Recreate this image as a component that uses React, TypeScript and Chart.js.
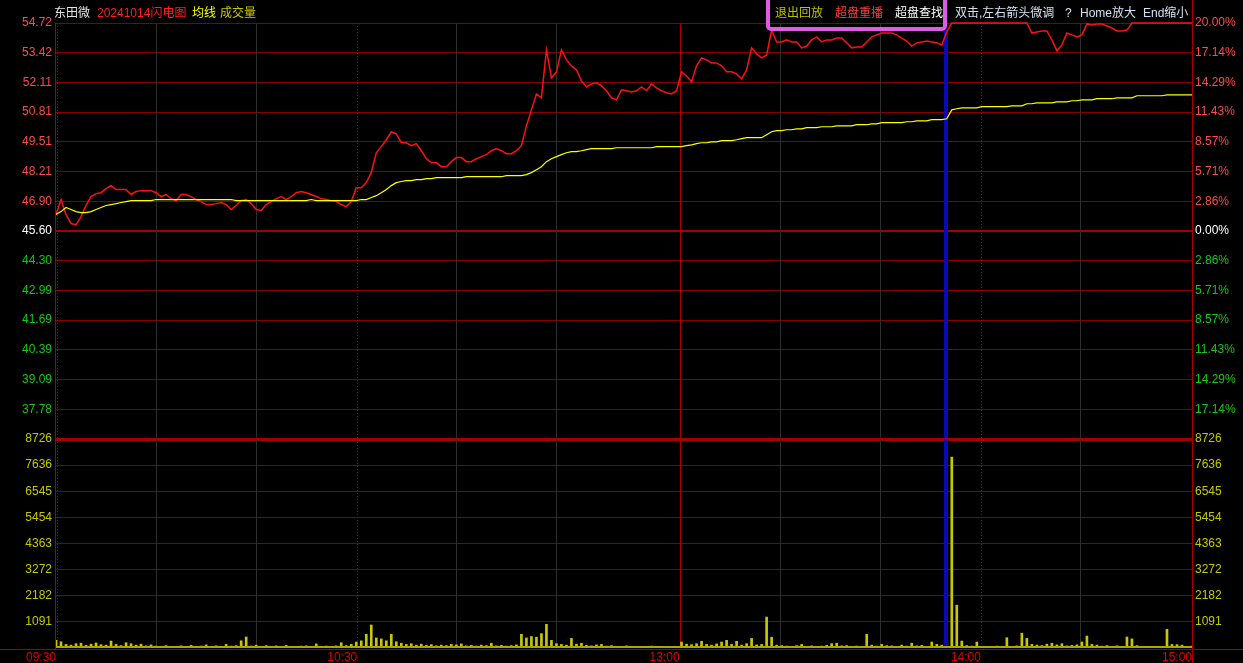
import React, { useEffect, useRef } from 'react';
import { Chart, registerables } from 'chart.js';

Chart.register(...registerables);

// ---------- data (sampled along the tick axis, 228 samples from 09:30 to 15:00) ----------
const PRICE: number[] = [
  46.32, 46.98, 46.32, 45.93, 45.88, 46.23, 46.72, 47.11, 47.24, 47.28,
  47.46, 47.59, 47.42, 47.42, 47.42, 47.20, 47.33, 47.37, 47.37, 47.37,
  47.28, 47.11, 47.20, 47.02, 46.93, 47.20, 47.20, 47.11, 46.98, 46.89,
  46.76, 46.76, 46.80, 46.85, 46.76, 46.54, 46.72, 46.93, 46.98, 46.80,
  46.54, 46.50, 46.76, 46.89, 47.02, 47.11, 46.98, 47.11, 47.28, 47.33,
  47.28, 47.20, 47.11, 47.02, 46.98, 46.93, 46.89, 46.76, 46.67, 46.89,
  47.50, 47.50, 47.72, 48.16, 49.03, 49.30, 49.60, 49.95, 49.86, 49.47,
  49.47, 49.34, 49.43, 49.12, 48.77, 48.60, 48.60, 48.42, 48.42, 48.64,
  48.82, 48.82, 48.64, 48.64, 48.77, 48.86, 48.95, 49.12, 49.21, 49.12,
  48.99, 48.99, 49.12, 49.34, 50.21, 50.91, 51.61, 51.44, 53.54, 52.31,
  52.58, 53.54, 53.10, 52.84, 52.66, 52.18, 51.92, 52.05, 52.10, 51.96,
  51.75, 51.44, 51.35, 51.79, 51.75, 51.70, 51.75, 51.92, 51.75, 52.05,
  51.88, 51.75, 51.66, 51.61, 51.75, 52.58, 52.40, 52.14, 52.84, 53.19,
  53.10, 52.97, 52.97, 52.84, 52.58, 52.58, 52.49, 52.27, 52.66, 53.63,
  53.36, 53.19, 53.32, 54.41, 53.89, 53.89, 53.98, 53.89, 53.89, 53.63,
  53.71, 53.98, 54.11, 53.89, 53.98, 53.98, 54.06, 54.06, 53.85, 53.63,
  53.67, 53.67, 53.89, 54.11, 54.20, 54.28, 54.28, 54.28, 54.20, 54.06,
  53.93, 53.71, 53.85, 53.89, 53.93, 53.89, 53.85, 53.76, 54.33, 54.72,
  54.72, 54.72, 54.72, 54.72, 54.72, 54.72, 54.72, 54.72, 54.72, 54.72,
  54.72, 54.72, 54.72, 54.72, 54.72, 54.28, 54.33, 54.37, 54.37, 53.98,
  53.50, 53.76, 54.28, 54.20, 54.11, 54.20, 54.68, 54.63, 54.68, 54.68,
  54.59, 54.50, 54.37, 54.37, 54.41, 54.72, 54.72, 54.72, 54.72, 54.72,
  54.72, 54.72, 54.72, 54.72, 54.72, 54.72, 54.72, 54.72,
];

const AVG: number[] = [
  46.32, 46.45, 46.63, 46.54, 46.45, 46.41, 46.41, 46.45, 46.54, 46.63,
  46.72, 46.76, 46.80, 46.85, 46.89, 46.93, 46.93, 46.93, 46.93, 46.93,
  46.98, 46.98, 46.98, 46.98, 46.98, 46.98, 46.98, 46.98, 46.98, 46.98,
  46.98, 46.98, 46.98, 46.98, 46.98, 46.98, 46.93, 46.93, 46.93, 46.93,
  46.93, 46.93, 46.93, 46.93, 46.93, 46.93, 46.93, 46.93, 46.93, 46.93,
  46.93, 46.98, 46.93, 46.93, 46.93, 46.93, 46.93, 46.93, 46.93, 46.93,
  46.93, 46.98, 46.98, 47.07, 47.15, 47.28, 47.42, 47.59, 47.72, 47.77,
  47.81, 47.81, 47.85, 47.85, 47.90, 47.90, 47.94, 47.94, 47.94, 47.94,
  47.94, 47.94, 47.98, 47.98, 47.98, 47.98, 47.98, 47.98, 47.98, 47.98,
  48.03, 48.03, 48.03, 48.03, 48.07, 48.16, 48.29, 48.42, 48.64, 48.77,
  48.86, 48.95, 49.03, 49.08, 49.08, 49.12, 49.17, 49.21, 49.21, 49.21,
  49.21, 49.21, 49.25, 49.25, 49.25, 49.25, 49.25, 49.25, 49.25, 49.25,
  49.30, 49.30, 49.30, 49.30, 49.30, 49.30, 49.34, 49.38, 49.43, 49.47,
  49.47, 49.51, 49.51, 49.56, 49.56, 49.56, 49.60, 49.65, 49.69, 49.69,
  49.69, 49.69, 49.82, 49.95, 50.00, 50.00, 50.04, 50.04, 50.08, 50.08,
  50.13, 50.13, 50.13, 50.17, 50.17, 50.17, 50.21, 50.21, 50.21, 50.21,
  50.26, 50.26, 50.26, 50.30, 50.30, 50.35, 50.35, 50.35, 50.35, 50.35,
  50.39, 50.39, 50.43, 50.43, 50.43, 50.48, 50.48, 50.48, 50.52, 50.91,
  50.96, 51.00, 51.00, 51.00, 51.00, 51.05, 51.05, 51.05, 51.05, 51.05,
  51.05, 51.09, 51.09, 51.09, 51.18, 51.18, 51.22, 51.22, 51.22, 51.22,
  51.26, 51.26, 51.26, 51.31, 51.31, 51.35, 51.35, 51.35, 51.40, 51.40,
  51.40, 51.40, 51.44, 51.44, 51.44, 51.44, 51.53, 51.53, 51.53, 51.53,
  51.53, 51.53, 51.57, 51.57, 51.57, 51.57, 51.57, 51.57,
];

const VOLUME: number[] = [
  320, 260, 150, 120, 180, 200, 110, 160, 210, 140,
  120, 290, 150, 100, 220, 180, 120, 160, 90, 130,
  80, 60, 100, 40, 70, 90, 50, 110, 60, 80,
  130, 70, 90, 60, 150, 80, 100, 300, 460, 80,
  120, 70, 100, 60, 90, 50, 110, 70, 60, 80,
  90, 70, 170, 60, 80, 50, 90, 220, 100, 150,
  250, 300, 570, 960, 420, 380, 300, 570, 260, 200,
  150, 180, 120, 160, 110, 140, 90, 120, 100, 150,
  130, 170, 90, 110, 80, 120, 100, 200, 90, 110,
  80, 100, 130, 570, 420, 480, 450, 600, 990, 320,
  180, 150, 120, 400, 160, 200, 110, 90, 130, 150,
  80, 100, 70, 60, 90, 50, 40, 70, 50, 80,
  60, 70, 40, 60, 50, 250, 160, 140, 180, 280,
  150, 120, 170, 250, 320, 150, 280, 120, 180, 400,
  130, 150, 1290, 450, 120, 100, 80, 70, 100, 150,
  60, 90, 70, 80, 110, 180, 200, 90, 100, 70,
  80, 60, 570, 120, 80, 150, 100, 90, 70, 120,
  80, 200, 90, 110, 70, 250, 150, 120, 300, 7970,
  1790, 290, 100, 80, 250, 60, 70, 50, 80, 60,
  430, 70, 90, 620, 400, 150, 120, 100, 160, 200,
  130, 180, 90, 110, 130, 250, 500, 150, 120, 80,
  100, 70, 90, 60, 460, 380, 100, 60, 50, 70,
  40, 60, 780, 150, 140, 120, 60, 80,
];

const PREV_CLOSE = 45.6;
const PRICE_TICKS = [54.72, 53.42, 52.11, 50.81, 49.51, 48.21, 46.9, 45.6, 44.3, 42.99, 41.69, 40.39, 39.09, 37.78, 36.48];
const PCT_TICKS = [20, 17.14, 14.29, 11.43, 8.57, 5.71, 2.86, 0, -2.86, -5.71, -8.57, -11.43, -14.29, -17.14, -20];
const VOL_TICKS = [0, 1091, 2182, 3272, 4363, 5454, 6545, 7636, 8726];
const TIME_TICKS = [0, 60.2, 124.6, 184.8, 227];
const TIME_LABELS = ['09:30', '10:30', '13:00', '14:00', '15:00'];
const FAINT_LINES = [20, 40, 80, 100, 144.6, 164.6, 204.6];
const DOTTED_LINES = [0, 60.2, 184.8];
const SOLID_LINES = [124.6];
const CURSOR_AT = 177.8;

// ---------- layout / style ----------
const W = 1243;
const H = 663;
const LEFT_W = 56;
const RIGHT_W = 51;
const PRICE_TOP = 23;
const SPLIT = 439;
const X_AXIS_H = 15;
const GRID = '#8a0000';
const GRID_STRONG = '#a80000';
const FONT = '"Liberation Sans", Arial, "Noto Sans CJK SC", sans-serif';
const tickFont = { family: FONT, size: 12 };

const near = (a: number, b: number) => Math.abs(a - b) < 1e-6;

const priceColor = (v: number) => (near(v, PREV_CLOSE) ? '#ffffff' : v > PREV_CLOSE ? '#ff4a4a' : '#14c814');
const pctColor = (v: number) => (near(v, 0) ? '#ffffff' : v > 0 ? '#ff4a4a' : '#14c814');

function vLines(chart: any, top: number, bottom: number) {
  const { ctx, scales } = chart;
  const x = scales.x;
  ctx.save();
  ctx.lineWidth = 1;
  ctx.strokeStyle = '#2e2e2e';
  FAINT_LINES.forEach((v) => {
    const px = Math.round(x.getPixelForValue(v)) + 0.5;
    ctx.beginPath();
    ctx.moveTo(px, top);
    ctx.lineTo(px, bottom);
    ctx.stroke();
  });
  ctx.strokeStyle = GRID_STRONG;
  ctx.setLineDash([1, 2]);
  DOTTED_LINES.forEach((v) => {
    const px = Math.round(x.getPixelForValue(v)) + (v === 0 ? 1.5 : 0.5);
    ctx.beginPath();
    ctx.moveTo(px, top);
    ctx.lineTo(px, bottom);
    ctx.stroke();
  });
  ctx.setLineDash([]);
  SOLID_LINES.forEach((v) => {
    const px = Math.round(x.getPixelForValue(v)) + 0.5;
    ctx.beginPath();
    ctx.moveTo(px, top);
    ctx.lineTo(px, bottom);
    ctx.stroke();
  });
  ctx.restore();
}

function cursor(chart: any, top: number, bottom: number) {
  const { ctx, scales } = chart;
  const px = Math.round(scales.x.getPixelForValue(CURSOR_AT));
  ctx.save();
  ctx.fillStyle = '#0a0ab4';
  ctx.fillRect(px - 2, top, 4, bottom - top);
  ctx.restore();
}

const pricePanePlugin = {
  id: 'pricePane',
  beforeDatasetsDraw(chart: any) {
    const a = chart.chartArea;
    vLines(chart, a.top, a.bottom);
    cursor(chart, 30, a.bottom);
  },
  afterDraw(chart: any) {
    const ctx = chart.ctx;
    ctx.save();
    ctx.textBaseline = 'middle';
    ctx.font = `12px ${FONT}`;
    const put = (t: string, c: string, x: number) => {
      ctx.fillStyle = c;
      ctx.fillText(t, x, 14);
    };
    put('东田微', '#e6e6e6', 54);
    put('20241014闪电图', '#ff2020', 97);
    put('均线', '#ffff00', 192);
    put('成交量', '#c8c800', 220);
    put('退出回放', '#c0c000', 775);
    put('超盘重播', '#ff3c3c', 835);
    put('超盘查找', '#ffffff', 895);
    put('双击,左右箭头微调', '#d2e1f0', 955);
    put('?', '#d2e1f0', 1065);
    put('Home放大', '#d2e1f0', 1080);
    put('End缩小', '#d2e1f0', 1143);
    // magenta highlight box
    ctx.strokeStyle = '#e05ae8';
    ctx.lineWidth = 4;
    ctx.beginPath();
    (ctx as any).roundRect(768, -6, 177, 35, 3);
    ctx.stroke();
    ctx.restore();
  },
};

const volPanePlugin = {
  id: 'volPane',
  beforeDatasetsDraw(chart: any) {
    const a = chart.chartArea;
    vLines(chart, a.top, a.bottom);
  },
  afterDatasetsDraw(chart: any) {
    const a = chart.chartArea;
    const ctx = chart.ctx;
    cursor(chart, a.top, a.bottom);
    ctx.save();
    ctx.fillStyle = '#b4a400';
    ctx.fillRect(a.left, a.bottom - 2, a.right - a.left, 2);
    ctx.restore();
  },
  afterDraw(chart: any) {
    const a = chart.chartArea;
    const ctx = chart.ctx;
    ctx.save();
    ctx.strokeStyle = GRID_STRONG;
    ctx.lineWidth = 1;
    ctx.beginPath();
    ctx.moveTo(a.left - 0.5, PRICE_TOP);
    ctx.lineTo(a.left - 0.5, a.bottom + 1);
    ctx.moveTo(a.right + 0.5, 0);
    ctx.lineTo(a.right + 0.5, H);
    ctx.moveTo(0, a.bottom + 1.5);
    ctx.lineTo(W, a.bottom + 1.5);
    ctx.stroke();
    ctx.restore();
  },
};

const yTicks = (values: number[]) => (s: any) => {
  s.ticks = values.map((v) => ({ value: v }));
};

export default function App() {
  const refA = useRef<HTMLCanvasElement>(null);
  const refB = useRef<HTMLCanvasElement>(null);

  useEffect(() => {
    document.body.style.margin = '0';
    document.body.style.background = '#000';

    const pricePts = PRICE.map((v, i) => ({ x: i, y: v }));
    const avgPts = AVG.map((v, i) => ({ x: i, y: v }));
    const volPts = VOLUME.map((v, i) => ({ x: i, y: v }));
    const lastIdx = PRICE.length - 1;

    const chartA = new Chart(refA.current as HTMLCanvasElement, {
      type: 'line',
      data: {
        datasets: [
          { data: avgPts, borderColor: '#ffff00', borderWidth: 1.2, pointRadius: 0, tension: 0, yAxisID: 'y', clip: 4 } as any,
          { data: pricePts, borderColor: '#ff1010', borderWidth: 1.5, pointRadius: 0, tension: 0, yAxisID: 'y', clip: 4 } as any,
        ],
      },
      options: {
        responsive: false,
        animation: false,
        devicePixelRatio: 1,
        events: [],
        layout: { padding: { top: PRICE_TOP, bottom: H - SPLIT, left: 0, right: 0 } },
        plugins: { legend: { display: false }, tooltip: { enabled: false } },
        scales: {
          x: { type: 'linear', min: 0, max: lastIdx, display: false },
          y: {
            type: 'linear',
            position: 'left',
            min: 36.48,
            max: 54.72,
            afterBuildTicks: yTicks(PRICE_TICKS),
            afterFit: (s: any) => { s.width = LEFT_W; },
            border: { display: false },
            grid: {
              drawTicks: false,
              color: (c: any) => (c.tick && (near(c.tick.value, PREV_CLOSE) || near(c.tick.value, 36.48)) ? GRID_STRONG : GRID),
              lineWidth: (c: any) => (c.tick && near(c.tick.value, 36.48) ? 3 : c.tick && near(c.tick.value, PREV_CLOSE) ? 2 : 1),
            },
            ticks: {
              autoSkip: false,
              padding: 4,
              font: tickFont,
              color: (c: any) => priceColor(c.tick.value),
              callback: (v: any) => (near(v, 36.48) ? '' : Number(v).toFixed(2)),
            },
          },
          yPct: {
            type: 'linear',
            position: 'right',
            min: -20,
            max: 20,
            afterBuildTicks: yTicks(PCT_TICKS),
            afterFit: (s: any) => { s.width = RIGHT_W; },
            border: { display: false },
            grid: { display: false, drawTicks: false },
            ticks: {
              autoSkip: false,
              padding: 3,
              font: tickFont,
              color: (c: any) => pctColor(c.tick.value),
              callback: (v: any) => (near(v, -20) ? '' : Math.abs(Number(v)).toFixed(2) + '%'),
            },
          },
        },
      } as any,
      plugins: [pricePanePlugin],
    });

    const chartB = new Chart(refB.current as HTMLCanvasElement, {
      type: 'bar',
      data: {
        datasets: [
          { data: volPts, backgroundColor: '#c8c800', barThickness: 2, borderWidth: 0, yAxisID: 'y' } as any,
        ],
      },
      options: {
        responsive: false,
        animation: false,
        devicePixelRatio: 1,
        events: [],
        layout: { padding: { top: SPLIT, bottom: 0, left: 0, right: 0 } },
        plugins: { legend: { display: false }, tooltip: { enabled: false } },
        scales: {
          x: {
            type: 'linear',
            min: 0,
            max: lastIdx,
            offset: false,
            afterBuildTicks: yTicks(TIME_TICKS),
            afterFit: (s: any) => { s.height = X_AXIS_H; },
            border: { display: false },
            grid: { display: false, drawTicks: false, offset: false },
            ticks: {
              autoSkip: false,
              maxRotation: 0,
              align: 'end',
              padding: 2,
              font: tickFont,
              color: '#e00000',
              callback: (_v: any, i: number) => TIME_LABELS[i],
            },
          },
          y: {
            type: 'linear',
            position: 'left',
            min: 0,
            max: 8726,
            afterBuildTicks: yTicks(VOL_TICKS),
            afterFit: (s: any) => { s.width = LEFT_W; },
            border: { display: false },
            grid: {
              drawTicks: false,
              color: (c: any) => (c.tick && near(c.tick.value, 8726) ? GRID_STRONG : GRID),
              lineWidth: (c: any) => (c.tick && near(c.tick.value, 8726) ? 3 : c.tick && c.tick.value === 0 ? 0 : 1),
            },
            ticks: {
              autoSkip: false,
              padding: 4,
              font: tickFont,
              color: '#c8c800',
              callback: (v: any) => (Number(v) === 0 ? '' : String(v)),
            },
          },
          yR: {
            type: 'linear',
            position: 'right',
            min: 0,
            max: 8726,
            afterBuildTicks: yTicks(VOL_TICKS),
            afterFit: (s: any) => { s.width = RIGHT_W; },
            border: { display: false },
            grid: { display: false, drawTicks: false },
            ticks: {
              autoSkip: false,
              padding: 3,
              font: tickFont,
              color: '#c8c800',
              callback: (v: any) => (Number(v) === 0 ? '' : String(v)),
            },
          },
        },
      } as any,
      plugins: [volPanePlugin],
    });

    return () => {
      chartA.destroy();
      chartB.destroy();
    };
  }, []);

  return (
    <div style={{ position: 'fixed', left: 0, top: 0, width: W, height: H, background: '#000', overflow: 'hidden' }}>
      <canvas ref={refA} width={W} height={H} style={{ position: 'absolute', left: 0, top: 0 }} />
      <canvas ref={refB} width={W} height={H} style={{ position: 'absolute', left: 0, top: 0 }} />
    </div>
  );
}
